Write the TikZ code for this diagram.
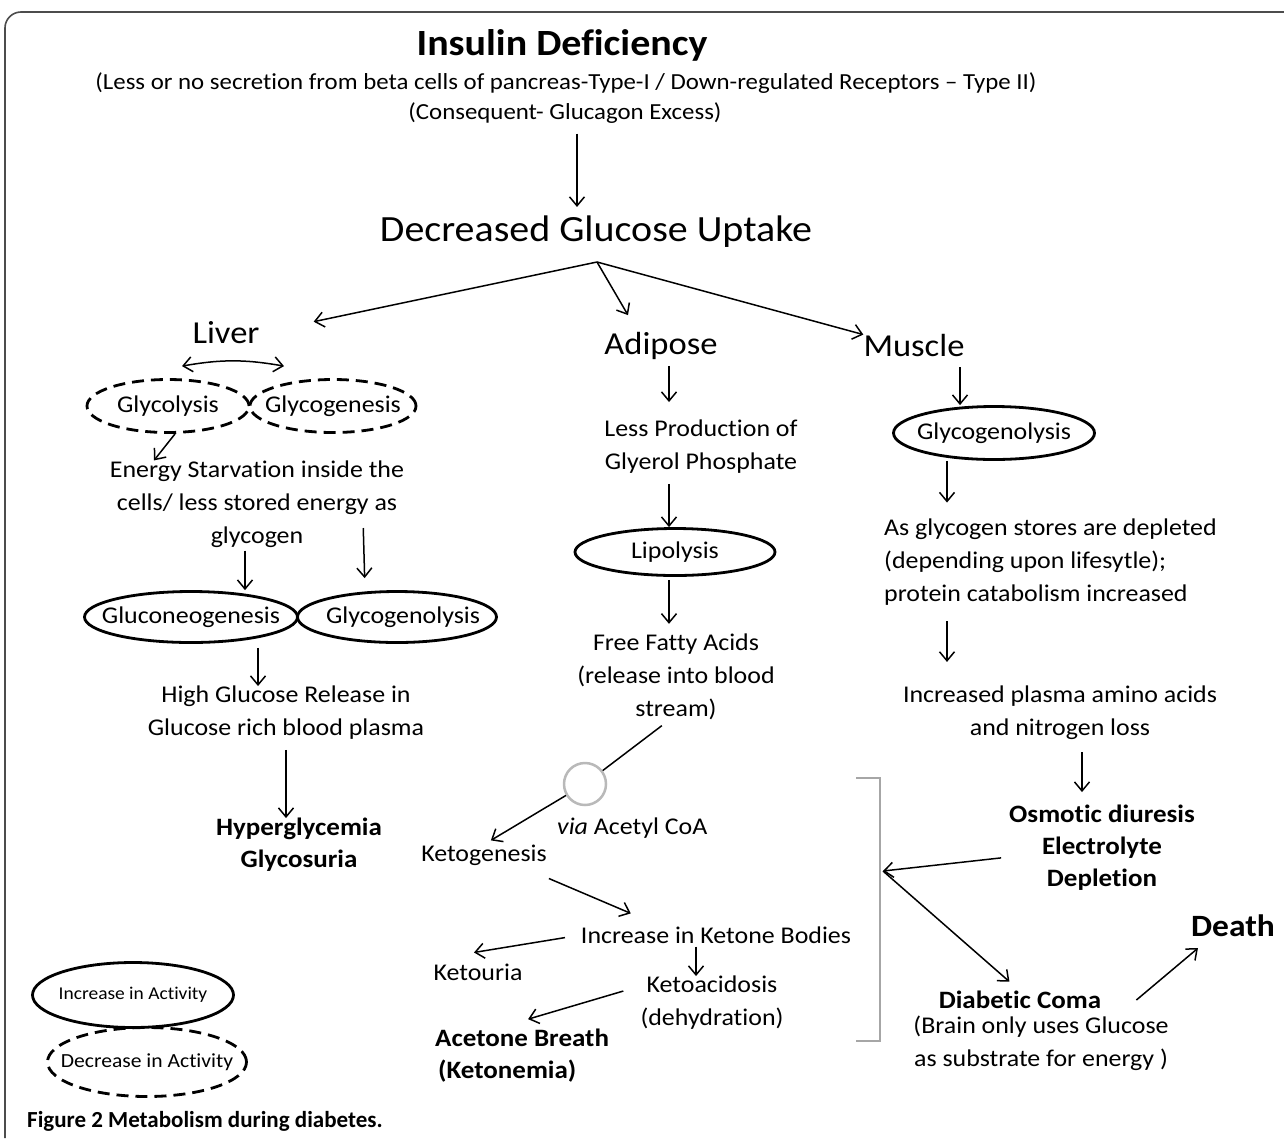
\documentclass[tikz,border=0pt]{standalone}
\usepackage{fontspec}
\setmainfont{Carlito}[FakeStretch=1.08,Ligatures=NoCommon]
\newfontfamily\capfont{Carlito}[Ligatures=NoCommon]
\usetikzlibrary{shapes.geometric,arrows.meta}
\newcommand\fsz[2]{\fontsize{#1}{#2}\selectfont}

\begin{document}
\begin{tikzpicture}[x=1pt,y=-1pt,
  >={Straight Barb[length=9pt,width=15pt]},
  lbl/.style={inner sep=0pt,align=center,font=\fsz{24}{33}},
  hd/.style={inner sep=0pt,font=\fsz{32}{36}},
  bld/.style={lbl,font=\fsz{25}{32}\bfseries},
  up/.style={ellipse,draw,line width=2.8pt,inner ysep=0pt,inner xsep=-40pt,font=\fsz{24}{26}},
  down/.style={up,dash pattern=on 12pt off 7pt},
  link/.style={->,line width=1.5pt}
]
\useasboundingbox (0,0) rectangle (1284,1138);
\fill[white] (0,0) rectangle (1284,1138);
% frame
\draw[gray!60!black,line width=1.6pt,rounded corners=16pt] (5,1138) -- (5,12) -- (1284,12);

% header
\node[inner sep=0pt,font=\fsz{37}{40}\bfseries] (title) at (562,45) {Insulin Deficiency};
\node[inner sep=0pt,font=\fsz{23}{26}] (cause) at (566,83) {(Less or no secretion from beta cells of pancreas-Type-I / Down-regulated Receptors – Type II)};
\node[inner sep=0pt,font=\fsz{23}{26}] (cons) at (565,113) {(Consequent- Glucagon Excess)};
\node[inner sep=0pt,font=\fsz{37}{40}] (uptake) at (596,232) {Decreased Glucose Uptake};
\coordinate (split) at (597,262);

% organs
\node[hd] (liver) at (226,333) {Liver};
\node[hd] (adipose) at (661,346) {Adipose};
\node[hd] (muscle) at (914,346) {Muscle};

% liver
\node[down,minimum width=162pt,minimum height=53pt] (glycolysis) at (168,406) {Glycolysis};
\node[down,minimum width=166pt,minimum height=53pt] (glycogenesis) at (333,406) {Glycogenesis};
\node[lbl] (starve) at (257,504) {Energy Starvation inside the\\cells/ less stored energy as\\glycogen};
\node[up,minimum width=213pt,minimum height=51pt] (gneo) at (191,617) {Gluconeogenesis};
\node[up,minimum width=199pt,minimum height=51pt] (glysisL) at (397,617) {\hspace{12pt}Glycogenolysis};
\node[lbl] (release) at (286,713) {High Glucose Release in\\Glucose rich blood plasma};
\node[bld] (hyper) at (299,845) {Hyperglycemia\\Glycosuria};

% adipose
\node[lbl] (glyph) at (701,447) {Less Production of\\Glyerol Phosphate};
\node[up,minimum width=200pt,minimum height=47pt] (lipo) at (675,552) {Lipolysis};
\node[lbl] (ffa) at (676,677) {Free Fatty Acids\\(release into blood\\stream)};
\node[circle,draw=gray!55,line width=2.5pt,minimum size=42pt,inner sep=0pt] (acoa) at (585,784) {};
\node[lbl,anchor=west] (via) at (557,828) {\textit{via} Acetyl CoA};
\node[lbl] (ketogen) at (484,855) {Ketogenesis};
\node[lbl] (bodies) at (716,935) {Increase in Ketone Bodies};
\node[lbl] (ketouria) at (478,972) {Ketouria};
\node[lbl] (acidosis) at (712,1003) {Ketoacidosis\\(dehydration)};
\node[bld,align=left,anchor=west] (breath) at (435,1056) {Acetone Breath\\\hspace{3pt}(Ketonemia)};

% muscle
\node[up,minimum width=201pt,minimum height=53pt] (glysisM) at (994,433) {Glycogenolysis};
\node[lbl,align=left,anchor=west] (stores) at (884,562) {As glycogen stores are depleted\\(depending upon lifesytle);\\protein catabolism increased};
\node[lbl] (amino) at (1060,713) {Increased plasma amino acids\\and nitrogen loss};
\node[bld] (osmo) at (1102,848) {Osmotic diuresis\\Electrolyte\\Depletion};
\node[inner sep=0pt,font=\fsz{31}{34}\bfseries] (death) at (1233,926) {Death};
\node[bld] (coma) at (1020,1000) {Diabetic Coma};
\node[lbl] (brain) at (1041,1043) {(Brain only uses Glucose\\as substrate for energy )};

% bracket
\draw[gray!70,line width=1.8pt] (856,778) -- (880,778) coordinate (brtop) -- (880,1041) coordinate (brbot) -- (856,1041);
\coordinate (hub) at (883,871);

% legend
\node[up,minimum width=201pt,minimum height=65pt,font=\fsz{18}{20}] (keyup) at (133,995) {Increase in Activity};
\node[down,minimum width=199pt,minimum height=69pt,font=\fsz{20}{22}] (keydown) at (147,1062) {Decrease in Activity};
\node[anchor=west,inner sep=0pt,font=\capfont\fsz{23}{26}\bfseries] (caption) at (27,1121) {Figure 2 Metabolism during diabetes.};

% connectors
\draw[link,shorten <=10pt,shorten >=9pt] (cons.south -| 577,0) -- (uptake.north -| 577,0);
\draw[link] (split) -- ([xshift=54pt]liver.north east);
\draw[link] (split) -- ([xshift=-33pt,yshift=17pt]adipose.north);
\draw[link] (split) -- (muscle.north west);
\draw[<->,line width=1.5pt] ([xshift=14pt,yshift=12pt]glycolysis.north) to[bend left=10] ([xshift=-49pt,yshift=12pt]glycogenesis.north);
\draw[link] ([xshift=7pt]glycolysis.south) -- ([xshift=-103pt]starve.north);
\draw[link,shorten <=3pt] (starve.south -| 245,0) -- (gneo.north -| 245,0);
\draw[link,shorten >=12pt] ([xshift=-41pt,yshift=-24pt]starve.east) -- (glysisL.north -| 365,0);
\draw[link,shorten <=4pt] (gneo.south -| 258,0) -- (release.north -| 258,0);
\draw[link,shorten <=10pt] (release.south -| 286,0) -- (hyper.north -| 286,0);

\draw[link,shorten <=6pt,shorten >=18pt] (adipose.south -| 669,0) -- (glyph.north -| 669,0);
\draw[link,shorten <=10pt] (glyph.south -| 669,0) -- (lipo.north -| 669,0);
\draw[link,shorten <=3pt,shorten >=10pt] (lipo.south -| 669,0) -- (ffa.north -| 669,0);
\draw[line width=1.5pt,shorten <=9pt] (ffa.south -| 669,0) -- (acoa);
\draw[link,shorten >=8pt] (acoa) -- (ketogen.north);
\draw[link] ([xshift=2pt,yshift=-13pt]ketogen.south east) -- ([xshift=50pt,yshift=13pt]bodies.north west);
\draw[link,shorten <=16pt] (bodies.west) -- ([xshift=-4pt,yshift=11pt]ketouria.north);
\draw[link,shorten <=3pt] (bodies.south -| 696,0) -- (acidosis.north -| 696,0);
\draw[link] ([xshift=-17pt,yshift=-15pt]acidosis.north west) -- ([xshift=6pt,yshift=10pt]breath.north);

\draw[link,shorten <=10pt] (muscle.south -| 960,0) -- (glysisM.north -| 960,0);
\draw[link,shorten >=16pt] (glysisM.south -| 947,0) -- (stores.north -| 947,0);
\draw[link,shorten <=16pt,shorten >=24pt] (stores.south -| 947,0) -- (amino.north -| 947,0);
\draw[link,shorten <=12pt,shorten >=13pt] (amino.south -| 1082,0) -- (osmo.north -| 1082,0);
\draw[link,shorten <=8pt] ([yshift=-9pt]osmo.west) -- (hub);
\draw[link,shorten >=14pt] (hub) -- (coma.north);
\draw[link] ([xshift=35pt]coma.east) -- ([xshift=7pt,yshift=-11pt]death.south west);
\end{tikzpicture}
\end{document}
